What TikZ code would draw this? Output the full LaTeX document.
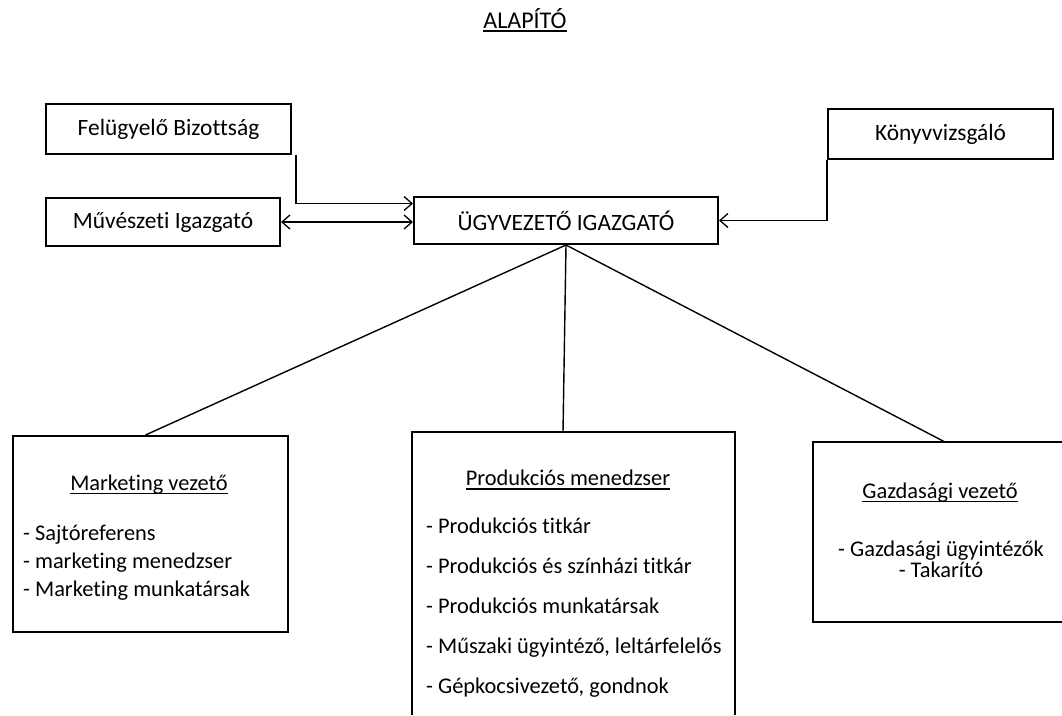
\documentclass[tikz,border=0pt]{standalone}
\usepackage{fontspec}
\setmainfont{Carlito}[Ligatures=NoCommon]
\usetikzlibrary{arrows.meta}
\newcommand{\myul}[1]{\setbox0\hbox{#1}\rlap{\vrule width \wd0 height -2.2pt depth 3.6pt}\box0}
\begin{document}
\begin{tikzpicture}[x=1pt,y=-1pt,
  box/.style={draw, line width=2pt, inner sep=0pt, anchor=north west, font=\fontsize{23.4}{27}\selectfont},
  frame/.style={line width=2pt},
  plain/.style={inner sep=0pt, font=\fontsize{22.4}{26}\selectfont},
  conn/.style={line width=1.4pt},
  tip/.style={-{Straight Barb[length=8pt,width=14pt,line width=1.3pt]}},
  bitip/.style={{Straight Barb[length=8pt,width=14pt,line width=1.3pt]}-{Straight Barb[length=8pt,width=14pt,line width=1.3pt]}}]
\useasboundingbox (0,0) rectangle (1062,715);

% title
\node[plain, anchor=base, font=\fontsize{24}{28}\selectfont] (alap) at (525,28) {\myul{ALAPÍTÓ}};

% top boxes
\node[box, minimum width=245pt, minimum height=50pt] (fb) at (45,103) {Felügyelő Bizottság};
\node[box, minimum width=234pt, minimum height=48pt] (mv) at (45,197) {Művészeti Igazgató};
\node[box, minimum width=304pt, minimum height=47pt] (ug) at (413,196) {ÜGYVEZETŐ IGAZGATÓ};
\node[box, minimum width=225pt, minimum height=50pt] (kv) at (827,108) {Könyvvizsgáló};

% bottom boxes
\node[box, minimum width=275pt, minimum height=196pt] (mk) at (12,435) {};
\coordinate (prtop) at (563,432);
\draw[frame] (412,715) -- (412,432) -- (735,432) -- (735,715);
\coordinate (gztop) at (945,442);
\draw[frame] (1062,442) -- (813,442) -- (813,622) -- (1062,622);

% texts in bottom boxes
\node[plain] (mkt) at (149,485) {\myul{Marketing vezető}};
\node[plain, anchor=north west, align=left, font=\fontsize{22.4}{28}\selectfont] (mkl) at (23,525) {- Sajtóreferens\\- marketing menedzser\\- Marketing munkatársak};

\node[plain] (prt) at (568,480) {\myul{Produkciós menedzser}};
\node[plain, anchor=north west, align=left, font=\fontsize{22.4}{40}\selectfont] (prl) at (426,518) {- Produkciós titkár\\- Produkciós és színházi titkár\\- Produkciós munkatársak\\- Műszaki ügyintéző, leltárfelelős\\- Gépkocsivezető, gondnok};

\node[plain] (gzt) at (940,493) {\myul{Gazdasági vezető}};
\node[plain, anchor=north, align=center, font=\fontsize{22.4}{21}\selectfont] (gzl) at (941,541) {- Gazdasági ügyintézők\\- Takarító};

% connectors
\draw[conn,tip] ([xshift=4pt]fb.south east) |- ([yshift=17pt]ug.west);
\draw[conn,bitip] (mv.east) -- (mv.east -| ug.west);
\draw[conn,tip] (kv.south west) |- (ug.east);
\draw[conn] (ug.south) -- ([xshift=-5pt]mk.north);
\draw[conn] (ug.south) -- (prtop);
\draw[conn] (ug.south) -- (gztop);
\end{tikzpicture}
\end{document}
